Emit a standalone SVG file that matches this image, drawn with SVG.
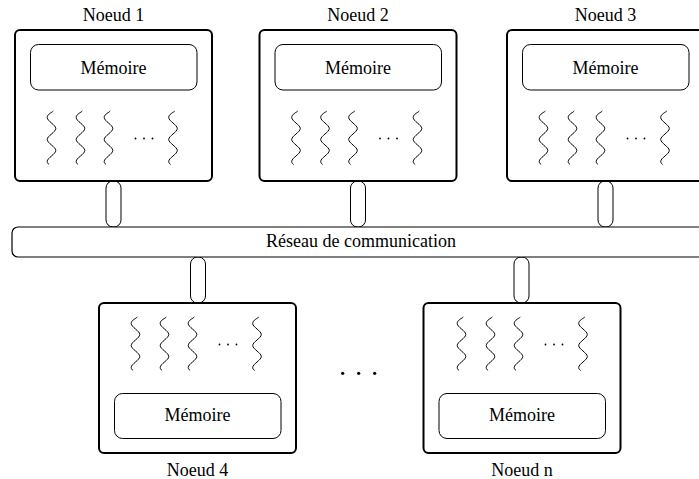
<svg xmlns="http://www.w3.org/2000/svg" xmlns:xlink="http://www.w3.org/1999/xlink" width="699" height="479" viewBox="0 0 699 479">
<style>
  .outer { fill: #ffffff; stroke: #000000; stroke-width: 2; }
  .mem { fill: none; stroke: #000000; stroke-width: 1; }
  .conn { fill: #ffffff; stroke: #000000; stroke-width: 1; }
  .bus { fill: #ffffff; stroke: #000000; stroke-width: 1.2; }
  .sq { fill: none; stroke: #000000; stroke-width: 1; }
  .dot { fill: #000000; }
  text { font-family: "Liberation Serif", "Times New Roman", serif; font-size: 18px; fill: #000000; text-anchor: middle; }
</style>
<defs>
  <path id="squig" class="sq" d="M 1.8,0 C 0.6,1.5 -4.3,3 -4.3,6.5 c 0,3.6 8.6,7.4 8.6,11 s -8.6,7.4 -8.6,11 s 8.6,7.4 8.6,11 s -8.6,7.4 -8.6,11 c 0,1.2 0.8,2.2 1.9,3"/>
  <g id="threads">
    <use xlink:href="#squig" x="36.5" y="0"/>
    <use xlink:href="#squig" x="65.5" y="0"/>
    <use xlink:href="#squig" x="93.5" y="0"/>
    <circle class="dot" cx="120.5" cy="27.5" r="0.9"/>
    <circle class="dot" cx="129" cy="27.5" r="0.9"/>
    <circle class="dot" cx="137.5" cy="27.5" r="0.9"/>
    <use xlink:href="#squig" x="158" y="0"/>
  </g>
</defs>
<rect width="699" height="479" fill="#ffffff"/>

<g id="connectors">
  <rect class="conn" x="106" y="181" width="15" height="46" rx="7" ry="7"/>
  <rect class="conn" x="350.5" y="181" width="15" height="46" rx="7" ry="7"/>
  <rect class="conn" x="598" y="181" width="15" height="46" rx="7" ry="7"/>
  <rect class="conn" x="190.5" y="257" width="15" height="46" rx="7" ry="7"/>
  <rect class="conn" x="514" y="257" width="15" height="46" rx="7" ry="7"/>
</g>

<g id="reseau">
  <rect class="bus" x="12" y="227" width="700" height="30" rx="6" ry="6"/>
  <text x="361" y="247">Réseau de communication</text>
</g>

<g id="noeud1" transform="translate(15,30)">
  <rect class="outer" x="0" y="0" width="197" height="151" rx="5" ry="5"/>
  <rect class="mem" x="15.5" y="14.5" width="166.5" height="45.5" rx="8" ry="8"/>
  <text x="98.5" y="44">Mémoire</text>
  <use xlink:href="#threads" x="0" y="81"/>
  <text x="98.5" y="-9.5">Noeud 1</text>
</g>

<g id="noeud2" transform="translate(259.5,30)">
  <rect class="outer" x="0" y="0" width="197" height="151" rx="5" ry="5"/>
  <rect class="mem" x="15.5" y="14.5" width="166.5" height="45.5" rx="8" ry="8"/>
  <text x="98.5" y="44">Mémoire</text>
  <use xlink:href="#threads" x="0" y="81"/>
  <text x="98.5" y="-9.5">Noeud 2</text>
</g>

<g id="noeud3" transform="translate(507,30)">
  <rect class="outer" x="0" y="0" width="197" height="151" rx="5" ry="5"/>
  <rect class="mem" x="15.5" y="14.5" width="166.5" height="45.5" rx="8" ry="8"/>
  <text x="98.5" y="44">Mémoire</text>
  <use xlink:href="#threads" x="0" y="81"/>
  <text x="98.5" y="-9.5">Noeud 3</text>
</g>

<g id="noeud4" transform="translate(99,303)">
  <rect class="outer" x="0" y="0" width="197" height="150" rx="5" ry="5"/>
  <use xlink:href="#threads" x="0" y="14"/>
  <rect class="mem" x="15.5" y="90.5" width="166.5" height="45" rx="8" ry="8"/>
  <text x="98.5" y="118">Mémoire</text>
  <text x="98.5" y="173">Noeud 4</text>
</g>

<g id="noeudn" transform="translate(423.5,303)">
  <rect class="outer" x="0" y="0" width="197" height="150" rx="5" ry="5"/>
  <use xlink:href="#threads" x="1.5" y="14"/>
  <rect class="mem" x="15.5" y="90.5" width="166.5" height="45" rx="8" ry="8"/>
  <text x="98.5" y="118">Mémoire</text>
  <text x="98.5" y="173">Noeud n</text>
</g>

<g id="ellipsis">
  <circle class="dot" cx="342.7" cy="373.3" r="1.6"/>
  <circle class="dot" cx="358.7" cy="373.3" r="1.6"/>
  <circle class="dot" cx="374.7" cy="373.3" r="1.6"/>
</g>
</svg>
